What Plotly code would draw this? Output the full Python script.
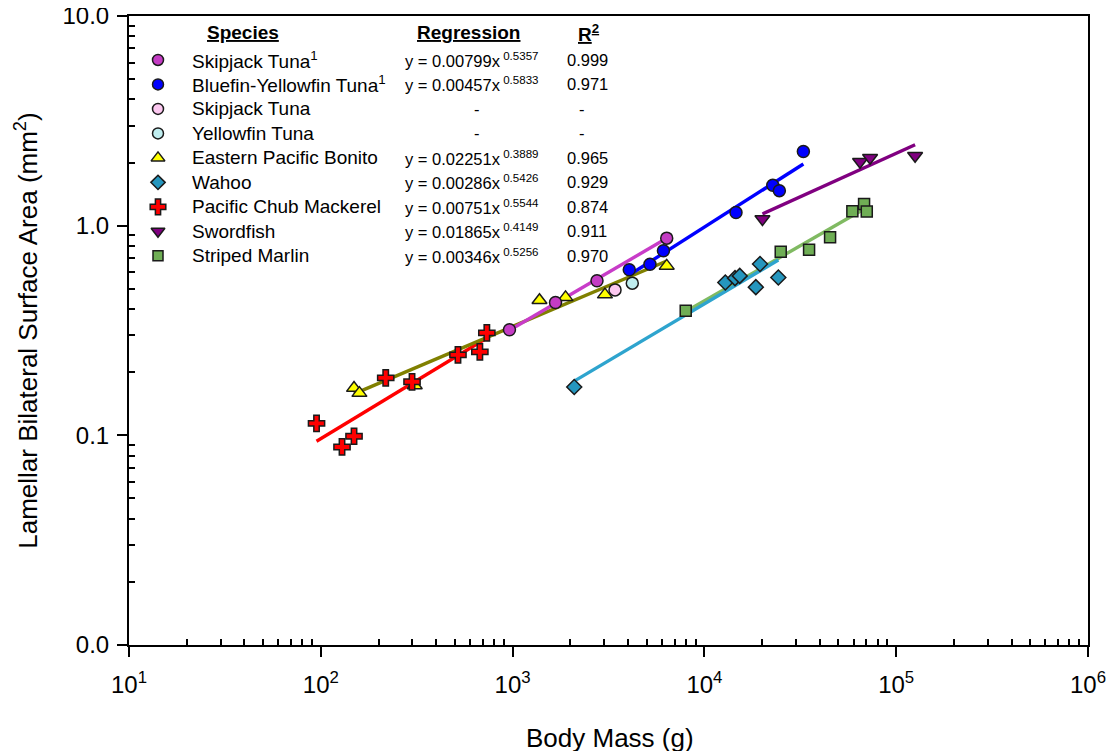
import plotly.graph_objects as go

# ---------------- data ----------------
species = ["Skipjack Tuna<sup>1</sup>", "Bluefin-Yellowfin Tuna<sup>1</sup>", "Skipjack Tuna",
           "Yellowfin Tuna", "Eastern Pacific Bonito", "Wahoo", "Pacific Chub Mackerel",
           "Swordfish", "Striped Marlin"]
coef_a = [0.00799, 0.00457, None, None, 0.02251, 0.00286, 0.00751, 0.01865, 0.00346]
expo_b = [0.5357, 0.5833, None, None, 0.3889, 0.5426, 0.5544, 0.4149, 0.5256]
r_squared = [0.999, 0.971, None, None, 0.965, 0.929, 0.874, 0.911, 0.970]

skipjack1_x = [963, 1674, 2754, 6361]
skipjack1_y = [0.319, 0.430, 0.546, 0.872]
bluefin_x = [4058, 5203, 6116, 14613, 22722, 24590, 32810]
bluefin_y = [0.616, 0.654, 0.759, 1.155, 1.560, 1.469, 2.256]
skipjack_x = [3420]
skipjack_y = [0.494]
yellowfin_x = [4207]
yellowfin_y = [0.532]
bonito_x = [149, 159, 309, 1381, 1888, 3030, 6361]
bonito_y = [0.168, 0.159, 0.173, 0.441, 0.455, 0.469, 0.643]
wahoo_x = [2096, 12853, 14441, 15284, 19498, 18539, 24294]
wahoo_y = [0.170, 0.536, 0.562, 0.576, 0.656, 0.509, 0.566]
mackerel_x = [95, 129, 149, 218, 299, 519, 675, 734]
mackerel_y = [0.114, 0.088, 0.099, 0.188, 0.180, 0.242, 0.250, 0.308]
swordfish_x = [20075, 64800, 73080, 125470]
swordfish_y = [1.075, 2.018, 2.108, 2.157]
marlin_x = [7990, 25003, 35140, 45212, 59075, 68005, 70240]
marlin_y = [0.393, 0.750, 0.767, 0.881, 1.172, 1.270, 1.167]

x_tick_vals = [10, 100, 1000, 10000, 100000, 1000000]
x_tick_text = ["10<sup>1</sup>", "10<sup>2</sup>", "10<sup>3</sup>", "10<sup>4</sup>",
               "10<sup>5</sup>", "10<sup>6</sup>"]
y_tick_vals = [0.01, 0.1, 1, 10]
y_tick_text = ["0.0", "0.1", "1.0", "10.0"]

series_x = [skipjack1_x, bluefin_x, skipjack_x, yellowfin_x, bonito_x, wahoo_x,
            mackerel_x, swordfish_x, marlin_x]
series_y = [skipjack1_y, bluefin_y, skipjack_y, yellowfin_y, bonito_y, wahoo_y,
            mackerel_y, swordfish_y, marlin_y]

# ---------------- styles ----------------
FONT = "Liberation Sans, Arial, sans-serif"
styles = [
    dict(symbol="circle", size=12, fill="#C43CC4", line="#C83CC8"),
    dict(symbol="circle", size=12, fill="#0000FF", line="#0000FF"),
    dict(symbol="circle", size=12, fill="#FCC8F0", line=None),
    dict(symbol="circle", size=12, fill="#C0EEF0", line=None),
    dict(symbol="triangle-up", size=13, fill="#FFFF00", line="#808000"),
    dict(symbol="diamond", size=11.5, fill="#2596BE", line="#2EA4CE"),
    dict(symbol="cross", size=13.5, fill="#FF0000", line="#FF0000"),
    dict(symbol="triangle-down", size=13, fill="#800080", line="#800080"),
    dict(symbol="square", size=11, fill="#6FAE55", line="#80BA62"),
]
legend_sizes = [11, 11, 11, 11, 12, 11, 13, 12, 10]
line_order = [8, 5, 6, 4, 0, 1, 7]  # drawing order of regression lines

fig = go.Figure()

# regression lines (from the printed equations, over each species' mass range)
for i in line_order:
    a, b = coef_a[i], expo_b[i]
    xs = [min(series_x[i]), max(series_x[i])]
    ys = [a * v ** b for v in xs]
    fig.add_trace(go.Scatter(x=xs, y=ys, mode="lines",
                             line=dict(color=styles[i]["line"], width=3.4),
                             hoverinfo="skip", showlegend=False))

# data markers
for i in [4, 6, 0, 1, 2, 3, 8, 5, 7]:
    st = styles[i]
    fig.add_trace(go.Scatter(
        x=series_x[i], y=series_y[i], mode="markers", name=species[i],
        marker=dict(symbol=st["symbol"], size=st["size"], color=st["fill"],
                    line=dict(color="#1a1a1a", width=1.5)),
        showlegend=False))

# ---------------- custom legend table (page-pixel overlay axes) ----------------
row_y0, row_dy = 60, 24.5
rows_y = [row_y0 + k * row_dy for k in range(len(species))]
sym_x, name_x, reg_x, reg_dash_x, r2_x = 158, 190, 403, 477, 587

for i, st in enumerate(styles):
    fig.add_trace(go.Scatter(
        x=[sym_x], y=[rows_y[i]], xaxis="x2", yaxis="y2", mode="markers",
        marker=dict(symbol=st["symbol"], size=legend_sizes[i], color=st["fill"],
                    line=dict(color="#1a1a1a", width=1.5)),
        hoverinfo="skip", showlegend=False))

annotations = []
def add_text(x, y, text, size, xanchor="left", xref="x2", yref="y2", angle=0):
    annotations.append(dict(x=x, y=y, xref=xref, yref=yref, text=text, showarrow=False,
                            xanchor=xanchor, yanchor="middle", textangle=angle,
                            font=dict(family=FONT, size=size, color="black")))

header_y = 33
add_text(243, header_y, "<b><u>Species</u></b>", 19, "center")
add_text(468, header_y, "<b><u>Regression</u></b>", 19, "center")
add_text(588, header_y, "<b><u>R<sup>2</sup></u></b>", 19, "center")

for i, name in enumerate(species):
    add_text(name_x, rows_y[i], name, 19)
    if coef_a[i] is None:
        add_text(reg_dash_x, rows_y[i], "-", 16.5, "center")
        add_text(r2_x - 5, rows_y[i], "-", 16.5, "center")
    else:
        add_text(reg_x, rows_y[i], f"y = {coef_a[i]:.5f}x<sup> {expo_b[i]:.4f}</sup>", 16.5)
        add_text(r2_x, rows_y[i], f"{r_squared[i]:.3f}", 16.5, "center")

# page geometry: the figure div sits 8 px in from the page corner (body margin)
OFF = 8
L, R, T, B = 129, 1088, 16, 645.5   # plot frame in page pixels
W, H = 1115, 751

def px_to_paper_x(px):
    return (px - L) / (R - L)
def px_to_paper_y(py):
    return (B - py) / (B - T)
add_text(px_to_paper_x(610), px_to_paper_y(739), "Body Mass (g)", 26, "center", "paper", "paper")
add_text(px_to_paper_x(27), px_to_paper_y(331), "Lamellar Bilateral Surface Area (mm<sup>2</sup>)",
         26, "center", "paper", "paper", -90)

minor_x = [m * 10 ** d for d in range(1, 6) for m in range(2, 10)]
minor_y = [m * 10 ** d for d in range(-2, 1) for m in range(2, 10)]

axis_common = dict(type="log", tickmode="array", ticks="outside", ticklen=10, tickwidth=1.5,
                   tickcolor="black", showline=True, linecolor="black", linewidth=2,
                   mirror=True, showgrid=False, zeroline=False, automargin=False,
                   ticklabeloverflow="allow",
                   tickfont=dict(family=FONT, size=24, color="black"))

fig.update_layout(
    width=W, height=H,
    margin=dict(l=L - OFF, r=W + OFF - R, t=T - OFF, b=H + OFF - B, pad=0),
    paper_bgcolor="white", plot_bgcolor="white",
    showlegend=False,
    xaxis=dict(range=[1, 6], tickvals=x_tick_vals, ticktext=x_tick_text,
               ticklabelstandoff=7,
               minor=dict(tickmode="array", tickvals=minor_x, ticks="inside", ticklen=6,
                          tickwidth=1.5, tickcolor="black", showgrid=False),
               **axis_common),
    yaxis=dict(range=[-2, 1], tickvals=y_tick_vals, ticktext=y_tick_text,
               ticklabelstandoff=3,
               minor=dict(tickmode="array", tickvals=minor_y, ticks="inside", ticklen=6,
                          tickwidth=1.5, tickcolor="black", showgrid=False),
               **axis_common),
    xaxis2=dict(range=[L, R], overlaying="x", anchor="y2", visible=False, fixedrange=True),
    yaxis2=dict(range=[B, T], overlaying="y", anchor="x2", visible=False, fixedrange=True),
    annotations=annotations,
)

fig.write_html("out.html")
